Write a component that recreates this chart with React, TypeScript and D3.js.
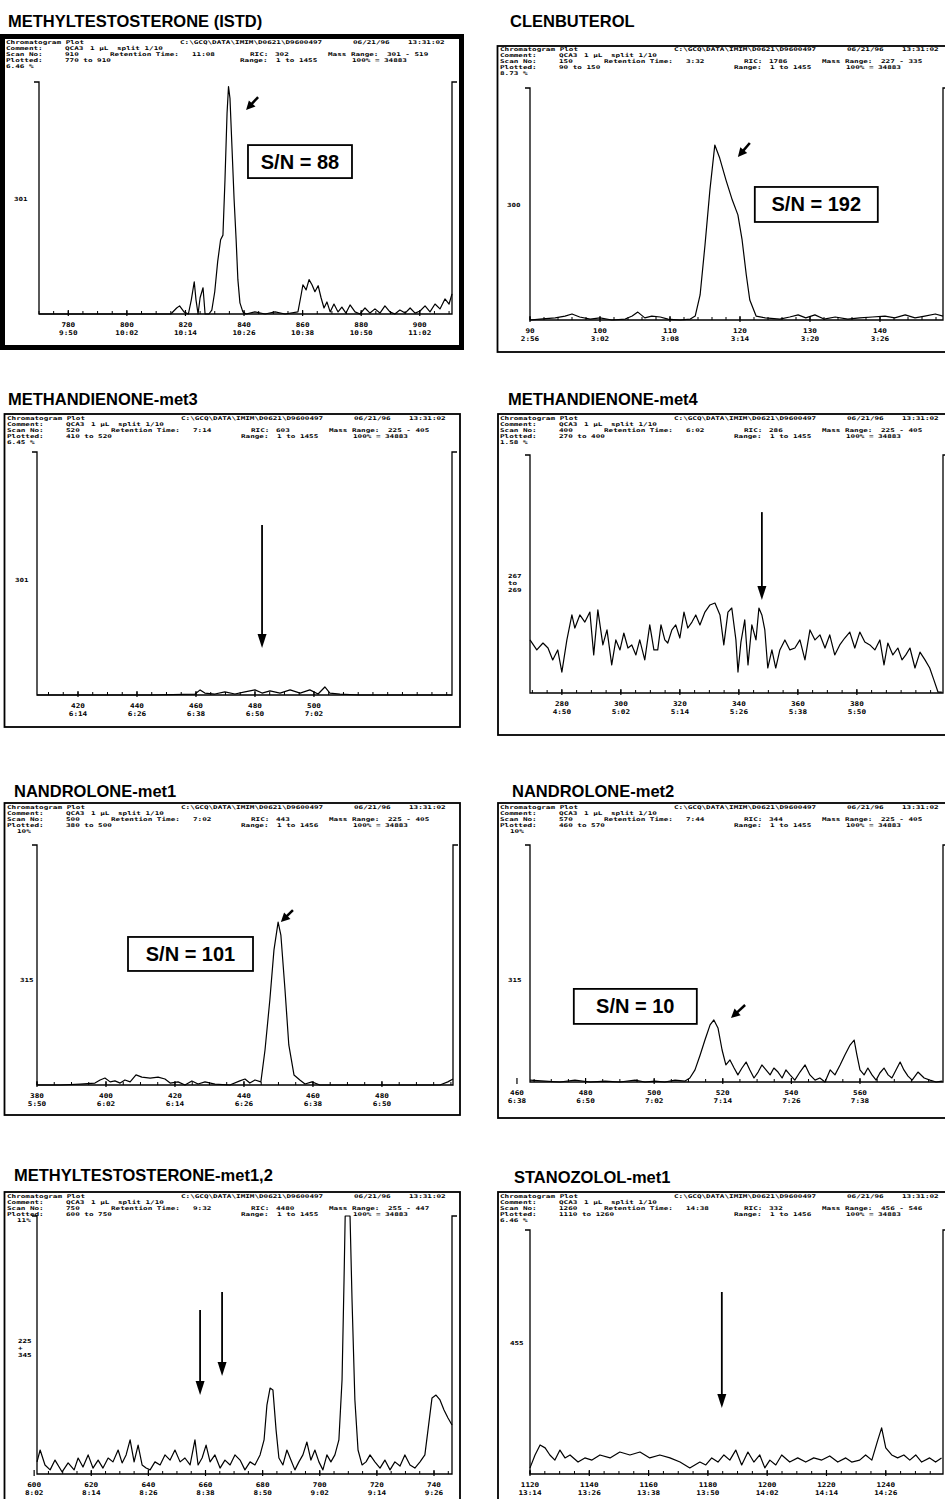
import React from "react";
import * as d3 from "d3";

// ---------- DATA ----------
const TITLES = [
  "METHYLTESTOSTERONE (ISTD)",
  "CLENBUTEROL",
  "METHANDIENONE-met3",
  "METHANDIENONE-met4",
  "NANDROLONE-met1",
  "NANDROLONE-met2",
  "METHYLTESTOSTERONE-met1,2",
  "STANOZOLOL-met1",
];
const SCAN_NO = ["910", "150", "520", "400", "500", "570", "750", "1260"];
const RET_TIME = ["11:08", "3:32", "7:14", "6:02", "7:02", "7:44", "9:32", "14:38"];
const RIC = ["302", "1786", "603", "286", "443", "344", "4480", "332"];
const MASS_RANGE = ["301 - 519", "227 - 335", "225 - 405", "225 - 405", "225 - 405", "225 - 405", "255 - 447", "456 - 546"];
const PLOTTED = ["770 to 910", "90 to 150", "410 to 520", "270 to 400", "380 to 500", "460 to 570", "600 to 750", "1110 to 1260"];
const RANGE = ["1 to 1455", "1 to 1455", "1 to 1455", "1 to 1455", "1 to 1456", "1 to 1455", "1 to 1455", "1 to 1456"];
const SCALE_PCT = ["6.46 %", "8.73 %", "6.45 %", "1.58 %", "10%", "10%", "11%", "6.46 %"];
const MASS_LABEL = [["301"], ["300"], ["301"], ["267", "to", "269"], ["315"], ["315"], ["225", "+", "345"], ["455"]];
const SN_LABEL = ["S/N = 88", "S/N = 192", null, null, "S/N = 101", "S/N = 10", null, null];

const TICK_SCANS = [
  [780, 800, 820, 840, 860, 880, 900],
  [90, 100, 110, 120, 130, 140],
  [420, 440, 460, 480, 500],
  [280, 300, 320, 340, 360, 380],
  [380, 400, 420, 440, 460, 480],
  [460, 480, 500, 520, 540, 560],
  [600, 620, 640, 660, 680, 700, 720, 740],
  [1120, 1140, 1160, 1180, 1200, 1220, 1240],
];
const TICK_TIMES = [
  ["9:50", "10:02", "10:14", "10:26", "10:38", "10:50", "11:02"],
  ["2:56", "3:02", "3:08", "3:14", "3:20", "3:26"],
  ["6:14", "6:26", "6:38", "6:50", "7:02"],
  ["4:50", "5:02", "5:14", "5:26", "5:38", "5:50"],
  ["5:50", "6:02", "6:14", "6:26", "6:38", "6:50"],
  ["6:38", "6:50", "7:02", "7:14", "7:26", "7:38"],
  ["8:02", "8:14", "8:26", "8:38", "8:50", "9:02", "9:14", "9:26"],
  ["13:14", "13:26", "13:38", "13:50", "14:02", "14:14", "14:26"],
];

// traces: [scan, relative intensity %]
const P1_TRACE: [number, number][] = [
  [770, 0], [815, 0], [817, 2.6], [818, 3.5], [819.5, 0.9], [821, 0], [822, 6.1], [823, 13.9], [823.6, 6.1], [824.3, 0],
  [825, 7], [826, 11.3], [826.7, 0], [828, 0], [829, 1.7], [830, 9.6], [831, 22.6], [832, 32], [832.8, 34], [833.5, 58],
  [834.2, 86.5], [834.7, 98], [835.2, 93], [835.9, 71.3], [836.6, 49.6], [837.3, 32], [837.9, 14.8], [838.6, 4.8], [839.6, 0.9], [840.7, 0],
  [843.7, 0.9], [847.2, 0], [850.6, 0.9], [854, 0], [858.4, 0.9], [859.5, 8.3], [860.1, 12.6], [861.2, 10.4], [862.2, 14.8], [863.2, 12.6],
  [864.2, 9.6], [865.3, 12.2], [866.3, 7], [867.3, 2.6], [868.3, 5.2], [869.4, 0.9], [870.7, 4.3], [872.1, 0.9], [873.4, 3], [874.8, 0.4],
  [876.2, 3.9], [877.9, 0.9], [879.6, 0], [881.3, 2.6], [883, 0.4], [884.7, 2.2], [886.4, 0.4], [888.1, 3.5], [889.8, 0.9], [891.5, 0],
  [893.2, 1.7], [895, 0.4], [896.7, 2.6], [898.4, 0.4], [900.1, 1.3], [901.8, 3.5], [903.5, 0.9], [905.2, 4.3], [906.9, 2.2], [908.6, 6.5],
  [910, 4.3], [911, 8.7],
];
const P2_TRACE: [number, number][] = [
  [90, 0], [91.4, 0.4], [93.6, 0.9], [95, 1.7], [96, 2.6], [97.1, 1.3], [98.6, 0.4], [100, 0.9], [101.7, 0], [103.6, 0.4],
  [104.6, 1.7], [105.4, 3.4], [106.4, 0.9], [107.4, 1.7], [108.6, 1.3], [109.7, 0.4], [111.4, 0], [112.9, 0.4], [113.6, 1.7], [114.3, 10.8],
  [115, 32.3], [115.7, 56], [116.4, 75.4], [117.1, 69.8], [118, 60.3], [118.9, 51.7], [119.7, 45.3], [120.3, 34.5], [120.9, 19.4], [121.4, 8.6],
  [122.3, 1.7], [123.6, 0.9], [125.7, 0.4], [127.1, 1.3], [128.3, 2.2], [129.4, 0.9], [130.7, 2.2], [132, 0.4], [133.6, 1.3], [135.4, 0.4],
  [137.1, 0.9], [138.9, 1.3], [140.7, 1.7], [142.1, 0.9], [143.6, 2.2], [145, 0.9], [146.4, 1.7], [147.9, 2.6], [149, 1.7],
];
const P3_TRACE: [number, number][] = [
  [406.1, 0], [444.4, 0], [459.7, 0.4], [461.4, 2.1], [463, 0.8], [466.4, 0.4], [469.8, 1.3], [473.2, 0.4], [476.6, 1.3], [480, 2.1],
  [482.4, 0.8], [485.1, 1.7], [488.5, 0.8], [491.9, 2.1], [495.3, 0.8], [498.6, 2.1], [501.4, 0.4], [503.7, 3.3], [505.4, 0.8], [508.8, 0.4],
  [515.6, 0], [546.8, 0],
];
const P4_TRACE: [number, number][] = [
  [269.2, 22.3], [271.5, 18.1], [273.6, 21], [275.3, 18.9], [276.9, 13.9], [278.6, 18.1], [280, 8.8], [281.7, 22.3], [283.4, 32.8], [284.4, 27.3],
  [286.1, 32.8], [287.8, 29.8], [289.5, 34], [290.8, 16], [292.2, 34.9], [293.9, 20.2], [295.3, 26.5], [296.9, 11.8], [298.3, 22.3], [299.7, 18.1],
  [301, 25.2], [302.4, 18.9], [303.7, 20.2], [305.1, 16], [306.4, 22.3], [308.1, 13.9], [309.8, 28.6], [311.2, 18.1], [312.5, 18.1], [313.6, 28.6],
  [314.9, 22.3], [315.9, 21], [317.3, 26.5], [318.6, 28.6], [320, 23.1], [321.4, 34], [322.7, 27.3], [324.1, 29.8], [325.4, 32.8], [326.8, 28.6],
  [328.5, 34], [330.2, 37], [331.9, 37.8], [333.6, 32.8], [334.9, 20.2], [336.3, 34], [337.6, 35.7], [339, 22.3], [339.7, 8.8], [340.7, 21.4],
  [342, 30.7], [343.1, 11.8], [344.4, 28.6], [345.8, 22.3], [346.8, 35.7], [347.8, 32.8], [348.8, 26.5], [349.8, 10.5], [351.2, 18.1], [352.5, 10.5],
  [353.9, 18.1], [355.6, 22.3], [357.3, 18.1], [359, 18.9], [360.7, 22.3], [362.4, 13.9], [364.1, 26.5], [365.8, 22.3], [367.5, 24.4], [369.2, 18.9],
  [370.8, 24.4], [372.5, 16], [374.2, 20.2], [375.9, 23.1], [377.6, 25.6], [379.3, 18.9], [381, 25.6], [382.7, 21.4], [384.4, 20.2], [386.1, 18.1],
  [387.8, 22.3], [389.2, 11.8], [390.5, 21], [392.2, 16], [393.9, 18.9], [395.3, 13.9], [396.6, 16], [398, 18.9], [399.7, 10.5], [401.4, 17.2],
  [403.1, 13.9], [404.7, 10.5], [406.1, 5.5], [407.5, 0.4], [408.8, 0.4],
];
const P5_TRACE: [number, number][] = [
  [380, 0], [386.7, 0], [392.5, 0.4], [396.8, 0.8], [398.3, 2.1], [399.7, 2.9], [401.2, 1.3], [402.6, 1.7], [404.1, 0.8], [405.5, 2.1],
  [407, 1.3], [408.7, 4.2], [410.4, 3.3], [412.8, 2.9], [415.1, 3.3], [417.1, 2.5], [418.6, 0.8], [420.9, 1.3], [422.9, 0], [424.9, 1.7],
  [426.7, 0.4], [428.7, 1.3], [431.6, 0.4], [435.9, 0], [438.8, 1.7], [440.3, 2.5], [441.7, 0.8], [443.2, 2.1], [444.9, 1.3], [446.1, 14.6],
  [447.5, 35.4], [448.7, 56.3], [449.9, 67.9], [450.7, 62.5], [451.9, 39.6], [453, 16.7], [454.5, 4.2], [456.2, 2.1], [457.7, 0.4], [459.7, 1.3],
  [462, 0], [496.8, 0], [499.1, 1.3], [500.6, 2.5],
];
const P6_TRACE: [number, number][] = [
  [463.8, 0.8], [468.2, 0.4], [472.5, 0], [476.9, 0.8], [481.3, 0], [485.7, 0.4], [490, 0], [494.4, 0.8], [497.3, 0], [500.2, 0.4],
  [503.1, 0], [506.1, 0.8], [509, 0.4], [510.4, 1.7], [511.9, 5.1], [513.4, 11.4], [514.8, 17.7], [516.3, 24.1], [517.4, 26.2], [518.6, 22.8],
  [519.8, 13.5], [520.9, 7.2], [522.1, 9.3], [523.3, 5.9], [524.4, 3], [525.6, 5.9], [526.8, 8.4], [527.9, 5.1], [529.1, 1.7], [530.3, 4.2],
  [531.4, 7.2], [532.6, 5.1], [533.8, 3], [534.9, 5.9], [536.1, 4.2], [537.3, 1.7], [538.4, 5.1], [539.6, 3], [541, 0.8], [542.5, 4.2],
  [544, 7.2], [545.4, 3], [546.9, 0.8], [548.3, 1.7], [549.8, 0], [551.3, 5.1], [552.7, 3], [554.2, 7.2], [555.6, 11.4], [557.1, 15.6],
  [558.3, 17.7], [559.1, 11.4], [560, 5.1], [561.2, 3], [562.3, 5.9], [563.5, 3], [564.7, 0.8], [565.8, 3.8], [567, 5.9], [568.2, 3],
  [569.3, 1.7], [570.5, 5.1], [571.7, 8.4], [572.8, 5.1], [574, 2.5], [575.2, 0.8], [576.9, 4.2], [578.7, 1.7], [580.4, 0.8], [582.2, 0],
  [583.9, 0.4],
];
const P7_TRACE: [number, number][] = [
  [601, 4.7], [602.1, 9.3], [603.8, 3.5], [605.6, 1.6], [607.3, 5.4], [609.8, 0.8], [611.9, 4.3], [614, 1.6], [615.4, 6.2], [617.1, 2.7],
  [618.9, 7.4], [620.6, 2.3], [622.4, 5.4], [624.1, 2.3], [625.9, 6.2], [627.6, 4.7], [629.4, 9.3], [630.8, 4.3], [632.2, 7.4], [633.6, 13.2],
  [635, 4.7], [636.4, 11.2], [637.8, 3.5], [639.2, 2.3], [640.6, 1.6], [642.3, 4.7], [644.1, 3.5], [645.8, 7.4], [647.6, 5.4], [649.3, 9.3],
  [651.1, 4.7], [652.8, 6.2], [654.6, 3.5], [656.3, 13.2], [657.4, 3.5], [658.8, 6.2], [660.2, 11.2], [661.6, 4.7], [663.3, 7.4], [665.1, 2.3],
  [666.8, 5.4], [668.6, 3.5], [670.3, 7.4], [672.1, 5.4], [673.8, 1.6], [675.6, 4.7], [677.3, 3.5], [679.1, 7.4], [680.5, 13.2], [681.5, 26.7],
  [682.6, 33.3], [683.6, 32.6], [684.7, 17.1], [685.7, 6.2], [687.1, 3.5], [688.5, 9.3], [689.9, 5.4], [691.3, 1.6], [692.7, 4.7], [694.1, 7.4],
  [695.5, 12.4], [696.9, 5.4], [698.3, 9.3], [699.7, 4.7], [701.1, 1.6], [702.5, 7.4], [703.9, 4.7], [705.3, 7.4], [706.7, 13.2], [707.8, 36.4],
  [708.5, 75.2], [708.9, 100], [710.6, 100], [711.3, 67.4], [712.3, 28.7], [713.4, 9.3], [714.8, 3.5], [716.2, 4.7], [717.6, 7.4], [719.3, 4.7],
  [721.1, 2.3], [722.8, 5.4], [724.6, 1.6], [726.3, 4.7], [728.1, 3.1], [729.8, 7.4], [731.6, 3.5], [733.3, 2.3], [735.1, 4.7], [736.8, 7.4],
  [737.9, 17.1], [739.3, 29.5], [740.7, 30.6], [742.1, 28.7], [743.5, 24.8], [744.9, 21.7], [746.3, 19],
];
const P8_TRACE: [number, number][] = [
  [1120, 2.5], [1121.7, 7.8], [1123.4, 11.9], [1125.1, 10.7], [1126.7, 7.8], [1128.4, 5.7], [1130.1, 9.8], [1131.8, 6.6], [1133.5, 7.8], [1136.2, 4.9],
  [1138.5, 6.6], [1140.9, 5.7], [1143.6, 7.8], [1147, 6.6], [1150.3, 9], [1153.7, 7.8], [1157.1, 9], [1160.4, 6.6], [1163.8, 7.8], [1167.2, 6.6],
  [1170.6, 4.9], [1173.9, 2.5], [1177.3, 4.9], [1179.3, 3.7], [1181.3, 6.6], [1183.4, 4.9], [1185.4, 7.8], [1187.4, 5.7], [1189.4, 9.8], [1191.4, 3.7],
  [1193.5, 9], [1195.5, 4.9], [1197.5, 7.8], [1199.2, 2.5], [1200.9, 5.7], [1202.9, 3.7], [1204.9, 7.8], [1207.6, 4.9], [1210.3, 6.6], [1213, 4.9],
  [1215.7, 6.6], [1218.4, 5.7], [1221.1, 7.4], [1223.8, 4.9], [1226.5, 6.6], [1228.5, 4.9], [1231.2, 5.7], [1233.2, 7.8], [1235.3, 5.7], [1237.3, 13.9],
  [1238.6, 18.9], [1240, 10.7], [1242, 7.8], [1244, 6.6], [1246.1, 7.8], [1248.1, 5.7], [1250.1, 7.8], [1252.1, 4.9], [1254.8, 6.6], [1256.8, 4.9],
  [1258.8, 6.6],
];
const TRACES = [P1_TRACE, P2_TRACE, P3_TRACE, P4_TRACE, P5_TRACE, P6_TRACE, P7_TRACE, P8_TRACE];

// annotations in data units: [scanFrom, intFrom, scanTo, intTo]
const ARROWS: number[][][] = [
  [[844.8, 93.5, 840.7, 87.9]],
  [[121.4, 76.3, 119.7, 70.3]],
  [[482.4, 70, 482.4, 19.3]],
  [[347.8, 76, 347.8, 39.1]],
  [[454.2, 72.9, 450.7, 67.9]],
  [[526.5, 32.5, 522.4, 27]],
  [[658.1, 63.6, 658.1, 30.6], [665.8, 70.5, 665.8, 38]],
  [[1184.7, 74.6, 1184.7, 27]],
];
const SN_POS: (number[] | null)[] = [[859.1, 65.7], [130.9, 49.8], null, null, [424.5, 54.6], [494.5, 31.9], null, null];

// ---------- LAYOUT ----------
type Lay = {
  fx: number; fy: number; fw: number; fh: number; fs: number;
  hx: number; hy: number; pctDx: number;
  left: number; right: number; top: number; base: number; dom: [number, number]; minor: number;
  massX: number; massY: number; snW: number; snH: number; bigArrow: boolean;
};
const LAYOUT: Lay[] = [
  { fx: 2.5, fy: 36.5, fw: 459, fh: 311, fs: 5, hx: 6, hy: 44, pctDx: 0, left: 39, right: 452, top: 82, base: 314, dom: [770, 911], minor: 5, massX: 14, massY: 201, snW: 104, snH: 33, bigArrow: false },
  { fx: 497.5, fy: 46, fw: 460, fh: 306, fs: 1.8, hx: 500, hy: 51, pctDx: 0, left: 530, right: 943, top: 88, base: 320, dom: [90, 149], minor: 2, massX: 507, massY: 207, snW: 123, snH: 35, bigArrow: false },
  { fx: 4.5, fy: 414, fw: 455.5, fh: 313, fs: 1.8, hx: 7, hy: 419.5, pctDx: 0, left: 37, right: 452, top: 452, base: 695, dom: [406.1, 546.8], minor: 5, massX: 15, massY: 582, snW: 0, snH: 0, bigArrow: true },
  { fx: 498, fy: 414, fw: 460, fh: 321, fs: 1.8, hx: 500, hy: 419.5, pctDx: 0, left: 530, right: 943, top: 455, base: 693, dom: [269.2, 409.2], minor: 5, massX: 508, massY: 585, snW: 0, snH: 0, bigArrow: true },
  { fx: 4.5, fy: 803, fw: 455.5, fh: 312, fs: 1.8, hx: 7, hy: 808.5, pctDx: 10, left: 37, right: 453, top: 845, base: 1085, dom: [380, 500.6], minor: 5, massX: 20, massY: 982, snW: 125, snH: 34, bigArrow: false },
  { fx: 498, fy: 803, fw: 460, fh: 315, fs: 1.8, hx: 500, hy: 809, pctDx: 10, left: 530, right: 943, top: 845, base: 1082, dom: [463.8, 584.2], minor: 5, massX: 508, massY: 982, snW: 123, snH: 35, bigArrow: false },
  { fx: 4.5, fy: 1192, fw: 455.5, fh: 320, fs: 1.8, hx: 7, hy: 1197.5, pctDx: 10, left: 37, right: 452, top: 1216, base: 1474, dom: [601, 746.3], minor: 5, massX: 18, massY: 1350, snW: 0, snH: 0, bigArrow: true },
  { fx: 498, fy: 1192, fw: 460, fh: 320, fs: 1.8, hx: 500, hy: 1197.5, pctDx: 0, left: 530, right: 943, top: 1230, base: 1474, dom: [1120, 1259.3], minor: 5, massX: 510, massY: 1345, snW: 0, snH: 0, bigArrow: true },
];
const TITLE_POS = [[8, 27], [510, 27], [8, 405], [508, 405], [14, 797], [512, 797], [14, 1181], [514, 1183]];

const MONO_FAMILY = "'DejaVu Sans Mono','Liberation Mono',monospace";
const SANS = "'Liberation Sans', Arial, sans-serif";

// small bold monospace text, squeezed vertically like the printout
function Mono({ x, y, fs, sx, anchor, children }: { x: number; y: number; fs: number; sx: number; anchor?: string; children: React.ReactNode }) {
  return (
    <text transform={`translate(${x},${y}) scale(${sx},1)`} fontFamily={MONO_FAMILY} fontWeight={700} fontSize={fs}
      textAnchor={anchor || "start"}>{children}</text>
  );
}

function Arrow({ x1, y1, x2, y2, hl, hw, sw }: { x1: number; y1: number; x2: number; y2: number; hl: number; hw: number; sw: number }) {
  const dx = x2 - x1, dy = y2 - y1, len = Math.hypot(dx, dy);
  const ux = dx / len, uy = dy / len;
  const bx = x2 - ux * hl, by = y2 - uy * hl;
  const px = -uy, py = ux;
  return (
    <g>
      <line x1={x1} y1={y1} x2={bx + ux * 1} y2={by + uy * 1} stroke="#000" strokeWidth={sw} />
      <polygon points={`${x2},${y2} ${bx + (px * hw) / 2},${by + (py * hw) / 2} ${bx - (px * hw) / 2},${by - (py * hw) / 2}`} fill="#000" />
    </g>
  );
}

const HFS = 5.2, HSX = 1.47, HROW = 6.1; // header font
const TFS = 6.4, TSX = 1.2; // tick label font

function Panel({ i }: { i: number }) {
  const L = LAYOUT[i];
  const x = d3.scaleLinear().domain(L.dom).range([L.left, L.right]);
  const y = d3.scaleLinear().domain([0, 100]).range([L.base, L.top]);
  const line = d3.line<[number, number]>().x((d) => x(d[0])).y((d) => y(d[1]));
  const minor = d3.range(Math.ceil(L.dom[0] / L.minor) * L.minor, L.dom[1] + 0.001, L.minor);
  const hx = L.hx, hy = L.hy;
  const header: [number, string][][] = [
    [[0, "Chromatogram Plot"], [174, "C:\\GCQ\\DATA\\IMIM\\D0621\\D9600497"], [347, "06/21/96"], [402, "13:31:02"]],
    [[0, "Comment:"], [59, "QCA3"], [84, "1 \u00b5L"], [111, "split 1/10"]],
    [[0, "Scan No:"], [59, SCAN_NO[i]], [104, "Retention Time:"], [186, RET_TIME[i]], [244, "RIC:"], [269, RIC[i]], [322, "Mass Range:"], [381, MASS_RANGE[i]]],
    [[0, "Plotted:"], [59, PLOTTED[i]], [234, "Range:"], [270, RANGE[i]], [346, "100% ="], [378, "34883"]],
    [[L.pctDx, SCALE_PCT[i]]],
  ];
  const sn = SN_LABEL[i];
  const snp = SN_POS[i];
  const nm = MASS_LABEL[i].length;
  return (
    <g>
      <rect x={L.fx} y={L.fy} width={L.fw} height={L.fh} fill="none" stroke="#000" strokeWidth={L.fs} />
      <text x={TITLE_POS[i][0]} y={TITLE_POS[i][1]} fontFamily={SANS} fontWeight={700} fontSize={16.5}>{TITLES[i]}</text>
      {header.map((ln, r) =>
        ln.map(([dx, t], k) => (
          <Mono key={`${r}-${k}`} x={hx + dx} y={hy + r * HROW} fs={HFS} sx={HSX}>{t}</Mono>
        ))
      )}
      {/* axes */}
      <path d={`M${L.left - 5},${L.top}H${L.left}V${L.base}H${L.right}V${L.top}H${L.right + 5}`} fill="none" stroke="#000" strokeWidth={1.3} />
      {minor.map((s) => (
        <line key={`m${s}`} x1={x(s)} x2={x(s)} y1={L.base} y2={L.base - 3} stroke="#000" strokeWidth={1} />
      ))}
      {TICK_SCANS[i].map((s, k) => (
        <g key={`t${s}`}>
          <line x1={x(s)} x2={x(s)} y1={L.base - 4} y2={L.base + 2} stroke="#000" strokeWidth={1.2} />
          <Mono x={x(s)} y={L.base + 12.5} fs={TFS} sx={TSX} anchor="middle">{s}</Mono>
          <Mono x={x(s)} y={L.base + 21} fs={TFS} sx={TSX} anchor="middle">{TICK_TIMES[i][k]}</Mono>
        </g>
      ))}
      {MASS_LABEL[i].map((t, k) => (
        <Mono key={`ml${k}`} x={L.massX} y={L.massY + (k - (nm - 1) / 2) * 7} fs={5.6} sx={1.35}>{t}</Mono>
      ))}
      <path d={line(TRACES[i]) || ""} fill="none" stroke="#000" strokeWidth={1.2} strokeLinejoin="round" />
      {ARROWS[i].map((a, k) => (
        <Arrow key={`a${k}`} x1={x(a[0])} y1={y(a[1])} x2={x(a[2])} y2={y(a[3])}
          hl={L.bigArrow ? 14 : 9} hw={9} sw={L.bigArrow ? 1.8 : 2.5} />
      ))}
      {sn && snp && (
        <g>
          <rect x={x(snp[0]) - L.snW / 2} y={y(snp[1]) - L.snH / 2} width={L.snW} height={L.snH} fill="#fff" stroke="#000" strokeWidth={1.8} />
          <text x={x(snp[0])} y={y(snp[1]) + 7} textAnchor="middle" fontFamily={SANS} fontWeight={700} fontSize={20}>{sn}</text>
        </g>
      )}
    </g>
  );
}

export default function App() {
  return (
    <div style={{ position: "absolute", left: 0, top: 0, width: 945, height: 1499, background: "#fff", overflow: "hidden" }}>
      <svg width={945} height={1499} viewBox="0 0 945 1499" style={{ display: "block" }}>
        <rect x={0} y={0} width={945} height={1499} fill="#fff" />
        {LAYOUT.map((_, i) => (
          <Panel key={i} i={i} />
        ))}
      </svg>
    </div>
  );
}
